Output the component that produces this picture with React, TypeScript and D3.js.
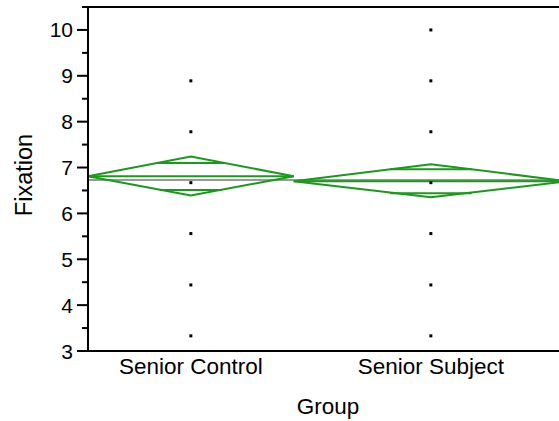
import * as d3 from "d3";

// groups and their relative widths on the x axis
const groups = ["Senior Control", "Senior Subject"];
const groupWeights = [30, 40];

// observed Fixation values per group
const controlValues = [8.89, 7.78, 6.67, 5.56, 4.44, 3.33];
const subjectValues = [10, 8.89, 7.78, 6.67, 5.56, 4.44, 3.33];

// means diamonds: mean, lower / upper 95% and overlap marks
const groupMeans = [6.81, 6.7];
const groupLower = [6.39, 6.35];
const groupUpper = [7.24, 7.07];
const overlapLower = [6.51, 6.44];
const overlapUpper = [7.1, 6.96];
const grandMean = 6.73;

const yTicks = [3, 4, 5, 6, 7, 8, 9, 10];
const yMinorTicks = [3.5, 4.5, 5.5, 6.5, 7.5, 8.5, 9.5, 10.5];

const W = 559;
const H = 421;
const GREEN = "#1a9a1a";
const FONT = "'Liberation Sans', Arial, sans-serif";

const App = () => {
  const x = d3.scaleLinear().domain([0, d3.sum(groupWeights)]).range([88, 568]);
  const y = d3.scaleLinear().domain([3, 10.5]).range([351, 7]);

  const edges = d3.cumsum([0, ...groupWeights]);
  const allValues = [controlValues, subjectValues];

  const diamonds = groups.map((g, i) => {
    const x0 = x(edges[i]);
    const x1 = x(edges[i + 1]);
    const cx = (x0 + x1) / 2;
    const hw = (x1 - x0) / 2;
    const m = groupMeans[i];
    const half = groupUpper[i] - m;
    const edgeAt = (v: number) => hw * (1 - Math.abs(v - m) / half);
    return { g, x0, x1, cx, hw, m, edgeAt, i };
  });

  return (
    <svg width={W} height={H} style={{ position: "absolute", left: 0, top: 0 }}>
      <rect width={W} height={H} fill="#fff" />

      {/* grand mean line */}
      <line x1={88} x2={W} y1={y(grandMean)} y2={y(grandMean)} stroke="#999" strokeWidth={2} />

      {/* diamonds */}
      {diamonds.map((d) => (
        <g key={d.g} fill="none" stroke={GREEN} strokeWidth={2}>
          <polygon
            points={[
              [d.x0, y(d.m)],
              [d.cx, y(groupUpper[d.i])],
              [d.x1, y(d.m)],
              [d.cx, y(groupLower[d.i])],
            ]
              .map((p) => p.join(","))
              .join(" ")}
          />
          <line x1={d.x0} x2={d.x1} y1={y(d.m)} y2={y(d.m)} />
          {[overlapUpper[d.i], overlapLower[d.i]].map((v, k) => (
            <line key={k} x1={d.cx - d.edgeAt(v)} x2={d.cx + d.edgeAt(v)} y1={y(v)} y2={y(v)} />
          ))}
        </g>
      ))}

      {/* points */}
      {diamonds.map((d) =>
        allValues[d.i].map((v, k) => (
          <rect key={d.g + k} x={d.cx - 1.5} y={y(v) - 1.5} width={3} height={3} fill="#000" />
        ))
      )}

      {/* frame and axes */}
      <g stroke="#000" strokeWidth={2}>
        <line x1={83} x2={W} y1={y(10.5)} y2={y(10.5)} />
        <line x1={88} x2={88} y1={y(10.5)} y2={y(3)} />
        <line x1={77} x2={W} y1={y(3)} y2={y(3)} />
        {yTicks.map((t) => (
          <line key={t} x1={77} x2={88} y1={y(t)} y2={y(t)} />
        ))}
        {yMinorTicks.map((t) => (
          <line key={t} x1={82} x2={88} y1={y(t)} y2={y(t)} />
        ))}
        {edges.slice(1, -1).map((e) => (
          <line key={e} x1={x(e)} x2={x(e)} y1={y(3)} y2={y(3) + 9} />
        ))}
      </g>

      <g fontFamily={FONT} fontSize={21} fill="#000">
        {yTicks.map((t) => (
          <text key={t} x={73} y={y(t)} textAnchor="end" dominantBaseline="central">
            {t}
          </text>
        ))}
        {diamonds.map((d) => (
          <text key={d.g} x={d.cx} y={374} textAnchor="middle" fontSize={22.5}>
            {d.g}
          </text>
        ))}
        <text x={(x(0) + x(edges[edges.length - 1])) / 2} y={414} textAnchor="middle" fontSize={22.5}>
          Group
        </text>
        <text transform={`translate(32,175) rotate(-90)`} textAnchor="middle" fontSize={23.5}>
          Fixation
        </text>
      </g>
    </svg>
  );
};

export default App;
